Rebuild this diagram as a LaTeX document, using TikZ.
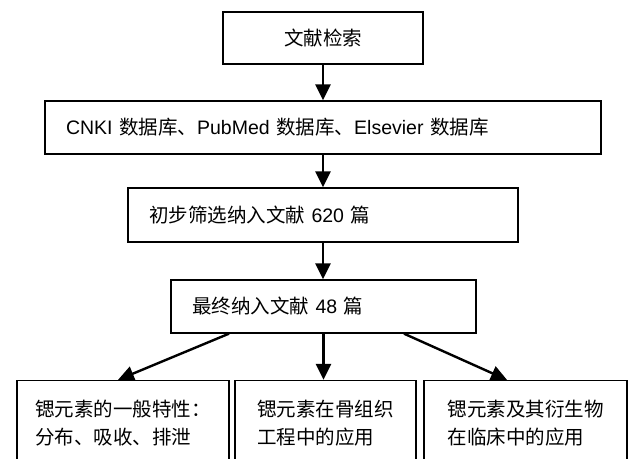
\documentclass[tikz,border=0pt]{standalone}
\usepackage{fontspec}
\setmainfont{Noto Sans CJK SC}
\newfontfamily\lat{Liberation Sans}
\usetikzlibrary{arrows.meta}

\begin{document}
\begin{tikzpicture}[x=1pt, y=-1pt,
  every node/.style={font=\fontsize{19.5pt}{28pt}\selectfont},
  box/.style={draw, line width=1.3pt, inner xsep=21pt, inner ysep=0pt, align=left},
  flow/.style={line width=2.4pt, -{Triangle[length=16pt, width=15pt]}}]
\useasboundingbox (0,0) rectangle (628,458);
\clip (0,0) rectangle (628,458);
% main chain
\node [box, align=center, minimum width=200pt, minimum height=52pt] (search) at (323,38) {文献检索};
\node [box, text width=514pt, minimum height=53pt] (db) at (323,127.5) {{\lat CNKI} 数据库、{\lat PubMed} 数据库、{\lat Elsevier} 数据库};
\node [box, text width=348pt, minimum height=54pt] (screen) at (323,215) {初步筛选纳入文献 {\lat 620} 篇};
\node [box, text width=263pt, minimum height=53pt] (final) at (323.5,306.5) {最终纳入文献 {\lat 48} 篇};
% three topics, cut off at the bottom edge
\node [box, inner xsep=16pt, minimum width=212pt, minimum height=85pt] (feat) at (123,423) {锶元素的一般特性：\\分布、吸收、排泄};
\node [box, minimum width=181pt, minimum height=85pt] (bone) at (325.5,423) {锶元素在骨组织\\工程中的应用};
\node [box, minimum width=203pt, minimum height=85pt] (clin) at (525.5,423) {锶元素及其衍生物\\在临床中的应用};
\draw[flow] (search.south) -- (db.north);
\draw[flow] (db.south) -- (screen.north);
\draw[flow] (screen.south) -- (screen.south |- final.north);
\draw[flow] ([xshift=-94.5pt]final.south) -- ([xshift=-5pt]feat.north);
\draw[flow] (final.south) -- (final.south |- bone.north);
\draw[flow] ([xshift=80.5pt]final.south) -- ([xshift=-18.5pt]clin.north);
\end{tikzpicture}
\end{document}
